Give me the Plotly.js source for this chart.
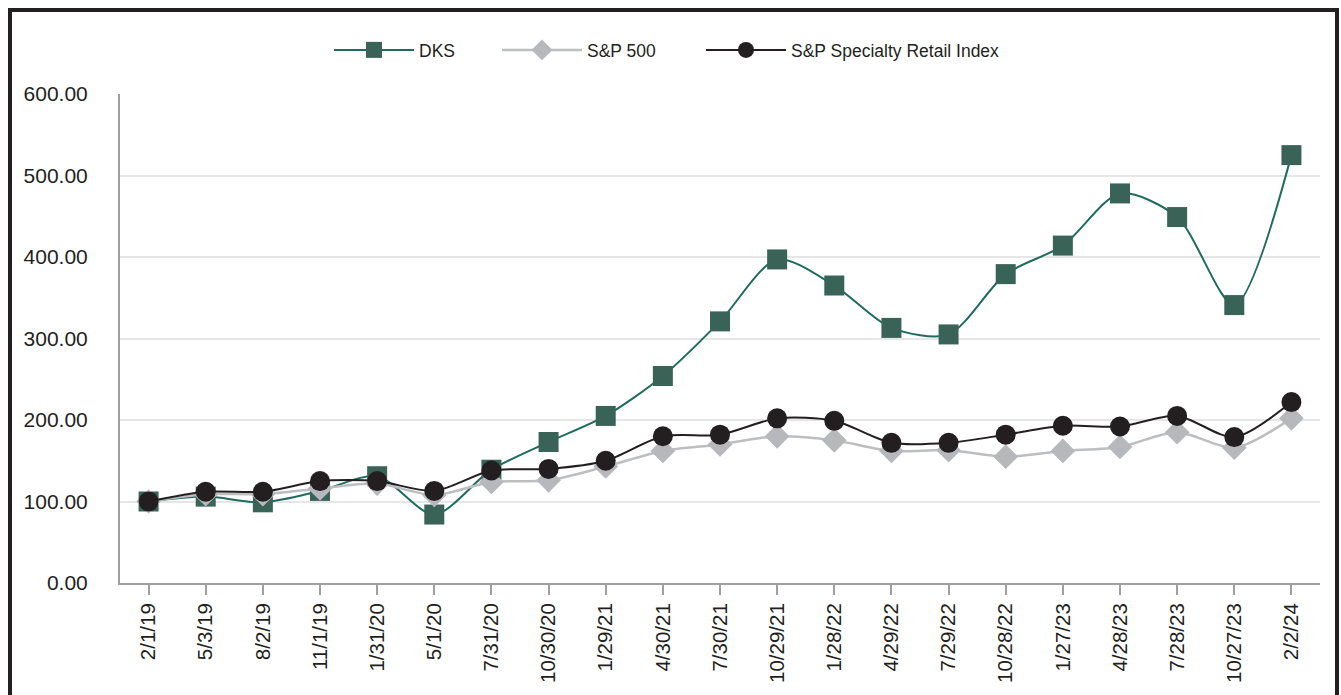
<!DOCTYPE html>
<html>
<head>
<meta charset="utf-8">
<script src="https://cdn.plot.ly/plotly-3.0.1.min.js"></script>
<style>
html,body{margin:0;padding:0;background:#fff;overflow:hidden;}
#chart{width:1341px;height:695px;position:absolute;left:0;top:0;}
#frame{position:absolute;left:8px;top:8px;width:1323px;height:720px;border:4px solid #231f20;pointer-events:none;}
</style>
</head>
<body>
<div id="chart"></div>
<div id="frame"></div>
<script>
const dates = ["2/1/19","5/3/19","8/2/19","11/1/19","1/31/20","5/1/20","7/31/20","10/30/20","1/29/21","4/30/21","7/30/21","10/29/21","1/28/22","4/29/22","7/29/22","10/28/22","1/27/23","4/28/23","7/28/23","10/27/23","2/2/24"];
const dks = [100,106,99,113,131,84,139,173,205,254,321,397,365,313,305,379,414,478,449,341,525];
const sp500 = [100,109,109,116,122,108,124,126,143,162,170,180,175,162,163,155,162,167,185,166,202];
const specialty = [100,112,112,125,125,113,138,140,150,180,182,202,199,172,172,182,193,192,205,179,222];

const fam = "Liberation Sans, Arial, Helvetica, sans-serif";
const ink = "#231f20";

const traces = [
  {x: dates, y: dks, name: "DKS", type: "scatter", mode: "lines+markers", legend: "legend",
   line: {color: "#1f6b5e", width: 2, shape: "spline", smoothing: 0.8},
   marker: {symbol: "square", size: 20, color: "#3a6358"}},
  {x: dates, y: sp500, name: "S&P 500", type: "scatter", mode: "lines+markers", legend: "legend2",
   line: {color: "#bdbec0", width: 2.5, shape: "spline", smoothing: 0.8},
   marker: {symbol: "diamond", size: 19, color: "#b7b8bb"}},
  {x: dates, y: specialty, name: "S&P Specialty Retail Index", type: "scatter", mode: "lines+markers", legend: "legend3",
   line: {color: ink, width: 2, shape: "spline", smoothing: 0.8},
   marker: {symbol: "circle", size: 20, color: ink}}
];

function leg(px) {
  return {orientation: "h", xref: "container", x: px / 1341, xanchor: "left",
    yref: "container", y: 1 - 50/695, yanchor: "middle",
    font: {family: fam, size: 17.5, color: ink}, itemwidth: 80,
    bgcolor: "rgba(0,0,0,0)", borderwidth: 0};
}

const layout = {
  width: 1341, height: 695,
  margin: {l: 120, r: 21, t: 94, b: 112},
  paper_bgcolor: "#fff", plot_bgcolor: "#fff",
  font: {family: fam, color: ink},
  showlegend: true,
  legend: leg(329), legend2: leg(497), legend3: leg(701),
  xaxis: {type: "category", range: [-0.5, 20.5], showgrid: false, showline: true, linecolor: "#9d9fa2", linewidth: 2,
    ticks: "outside", ticklen: 10, tickwidth: 2, tickcolor: "#9d9fa2", tickangle: -90,
    tickfont: {family: fam, size: 20.5, color: ink}, zeroline: false},
  yaxis: {range: [0, 600], tickvals: [0,100,200,300,400,500,600], tickformat: ".2f",
    showgrid: true, gridcolor: "#e6e6e6", gridwidth: 2, showline: true, linecolor: "#9d9fa2", linewidth: 2,
    zeroline: false, ticks: "", ticklabelstandoff: 26,
    tickfont: {family: fam, size: 21, color: ink}}
};

Plotly.newPlot("chart", traces, layout, {displayModeBar: false, staticPlot: true});
</script>
</body>
</html>
